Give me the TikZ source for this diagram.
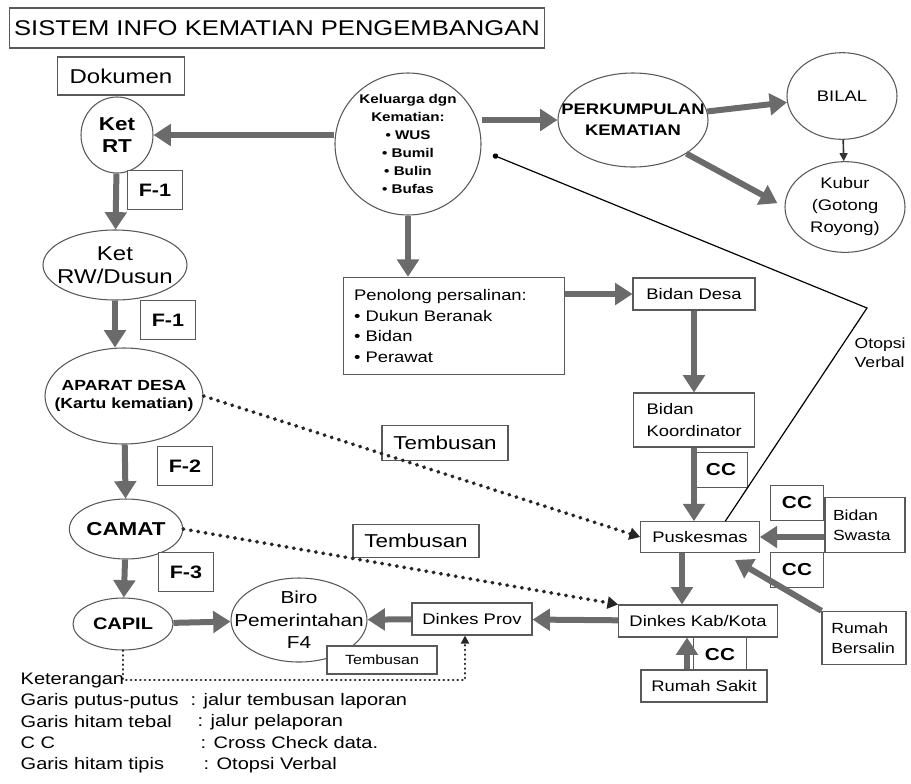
\documentclass[tikz,border=0pt]{standalone}
\usepackage{fontspec}
\setmainfont{Liberation Sans}[FakeStretch=1.2]
\usetikzlibrary{arrows.meta, shapes.geometric, calc}

\tikzset{
  box/.style={draw=black!65, line width=0.8pt, fill=white, align=center, inner sep=2pt,
    font=\fontsize{11.5}{13.5}\selectfont},
  oval/.style={ellipse, draw=black!65, line width=0.8pt, fill=white, inner sep=0pt},
  ovtxt/.style={align=center, inner sep=0pt},
  fbox/.style={box, minimum width=41pt, minimum height=29pt, font=\bfseries\fontsize{13.5}{15}\selectfont},
  ccbox/.style={box, minimum width=40pt, minimum height=26pt, font=\bfseries\fontsize{13}{15}\selectfont},
  legtext/.style={anchor=west, font=\fontsize{12.5}{14}\selectfont},
  lapor/.style={draw=black!58, line width=4.5pt, -{Triangle[length=13pt,width=16pt]}},
  tembus/.style={draw=black!85, line width=2.8pt, dash pattern=on 0.4pt off 5.2pt, line cap=round,
    -{Triangle[length=8pt,width=9pt]}},
  otopsi/.style={draw=black, line width=0.9pt, -{Circle[length=4pt]}},
}

\begin{document}
\begin{tikzpicture}[x=0.75pt, y=-0.75pt]
    \useasboundingbox (0,0) rectangle (911,783);

    % Judul
    \node[box, minimum width=401pt, minimum height=30pt, font=\fontsize{16}{18}\selectfont] (judul) at (277,28) {SISTEM INFO KEMATIAN PENGEMBANGAN};
    \node[box, minimum width=95pt, minimum height=28.5pt, font=\fontsize{15}{17}\selectfont] (dok) at (121,76) {Dokumen};

    % Jalur desa (kiri)
    \node[oval, minimum width=54pt, minimum height=57pt,
        label={[ovtxt, font=\bfseries\fontsize{14}{16}\selectfont]center:{Ket\\RT}}] (ketrt) at (117,135) {};
    \node[oval, minimum width=108pt, minimum height=52.5pt,
        label={[ovtxt, font=\fontsize{15}{17}\selectfont]center:{Ket\\RW/Dusun}}] (ketrw) at (115,265) {};
    \node[oval, minimum width=118.5pt, minimum height=72pt,
        label={[ovtxt, font=\bfseries\fontsize{11}{14}\selectfont]center:{APARAT DESA\\(Kartu kematian)}}] (aparat) at (124,396) {};
    \node[oval, minimum width=85pt, minimum height=45pt,
        label={[ovtxt, font=\bfseries\fontsize{14}{16}\selectfont]center:{CAMAT}}] (camat) at (126,529) {};
    \node[oval, minimum width=75pt, minimum height=39pt,
        label={[ovtxt, font=\bfseries\fontsize{12.5}{14}\selectfont]center:{CAPIL}}] (capil) at (123,624) {};
    \node[oval, minimum width=102pt, minimum height=63pt,
        label={[ovtxt, font=\fontsize{13}{17}\selectfont]center:{Biro\\Pemerintahan\\F4}}] (biro) at (299,620) {};

    % Formulir
    \foreach \nm/\x/\y/\lab in {f1a/155/190/F-1, f1b/168/320/F-1, f2/185/466/F-2, f3/186/572/F-3}
        \node[fbox] (\nm) at (\x,\y) {\lab};

    % Keluarga dan perkumpulan
    \node[oval, minimum width=109.5pt, minimum height=106.5pt,
        label={[ovtxt, font=\bfseries\fontsize{9.5}{13.5}\selectfont]center:{Keluarga dgn\\Kematian:\\• WUS\\• Bumil\\• Bulin\\• Bufas}}] (kel) at (408,144) {};
    \node[oval, minimum width=112.5pt, minimum height=70.5pt,
        label={[ovtxt, font=\bfseries\fontsize{11.5}{16}\selectfont]center:{PERKUMPULAN\\KEMATIAN}}] (perk) at (633,120) {};
    \node[oval, minimum width=82.5pt, minimum height=65pt,
        label={[ovtxt, font=\fontsize{11.5}{14}\selectfont]center:{BILAL}}] (bilal) at (842,96) {};
    \node[oval, minimum width=90pt, minimum height=68pt,
        label={[ovtxt, font=\fontsize{11.5}{16.5}\selectfont]center:{Kubur\\(Gotong\\Royong)}}] (kubur) at (845,207) {};

    % Jalur kesehatan
    \node[box, minimum height=73pt, text width=150pt, inner xsep=8pt, align=left,
        font=\fontsize{11.5}{15.5}\selectfont] (penolong) at (454,326)
        {Penolong persalinan:\\• Dukun Beranak\\• Bidan\\• Perawat};
    \node[box, minimum width=91.5pt, minimum height=24pt] (desa) at (694,294) {Bidan Desa};
    \node[box, minimum height=40.5pt, text width=71pt, inner xsep=10pt, align=left,
        font=\fontsize{11.5}{16.5}\selectfont] (koord) at (694,420) {Bidan\\Koordinator};

    \foreach \nm/\x/\y in {cc1/721/470, cc2/797/503, cc3/797/570, cc4/720/655}
        \node[ccbox] (\nm) at (\x,\y) {CC};

    \node[box, minimum width=89pt, minimum height=23pt] (pusk) at (700,537) {Puskesmas};
    \node[box, minimum height=41pt, text width=48pt, inner xsep=6pt, align=left,
        font=\fontsize{11}{15}\selectfont] (swasta) at (865,525) {Bidan\\Swasta};
    \node[box, minimum height=40pt, text width=49pt, inner xsep=7pt, align=left,
        font=\fontsize{11}{15}\selectfont] (bersalin) at (864,638) {Rumah\\Bersalin};
    \node[box, minimum width=119pt, minimum height=24pt] (kab) at (698,621) {Dinkes Kab/Kota};
    \node[box, minimum width=94.5pt, minimum height=24pt] (rs) at (704,686) {Rumah Sakit};
    \node[box, minimum width=90pt, minimum height=24pt] (prov) at (472,619) {Dinkes Prov};

    % Tembusan
    \node[box, minimum width=94.5pt, minimum height=26pt, font=\fontsize{14}{16}\selectfont] (temb1) at (445,443) {Tembusan};
    \node[box, minimum width=94.5pt, minimum height=25pt, font=\fontsize{14}{16}\selectfont] (temb2) at (416,541) {Tembusan};
    \node[box, minimum width=82.5pt, minimum height=21pt, font=\fontsize{10}{12}\selectfont] (temb3) at (382,660) {Tembusan};
    \node[anchor=west, align=left, font=\fontsize{11}{14}\selectfont] (otplab) at (850,353) {Otopsi\\Verbal};

    % Jalur pelaporan (garis tebal)
    \draw[lapor] (kel.west |- ketrt.east) -- (ketrt.east);
    \draw[lapor] (ketrt) -- (ketrw);
    \draw[lapor] (ketrw.south) -- (ketrw.south |- aparat.north);
    \draw[lapor] (aparat) -- (camat);
    \draw[lapor] (camat) -- (capil);
    \draw[lapor] (capil) -- (biro);
    \draw[lapor] (prov) -- (biro);
    \draw[lapor] (kab) -- (prov);
    \draw[lapor] (perk.west -| kel.east) -- (perk.west);
    \draw[lapor] (perk) -- (bilal);
    \draw[lapor, shorten >=6pt] (perk.south east) -- (kubur.west);
    \draw[draw=black!80, line width=1.2pt, -{Triangle[length=6pt,width=6pt]}] (bilal) -- (kubur);
    \draw[lapor] (kel.south) -- (kel.south |- penolong.north);
    \draw[lapor] (penolong.east |- desa.west) -- (desa.west);
    \draw[lapor] (desa) -- (koord);
    \draw[lapor] (koord.south) -- (koord.south |- pusk.north);
    \draw[lapor] ([xshift=-13.5pt]pusk.south) -- ([xshift=-13.5pt]pusk.south |- kab.north);
    \draw[lapor] (swasta.west |- pusk.east) -- (pusk.east);
    \coordinate (pskin) at (735,560);
    \draw[lapor] (bersalin.north west) -- (pskin);
    \draw[lapor] ([xshift=-12.75pt]rs.north) -- ([xshift=-12.75pt]rs.north |- kab.south);

    % Otopsi verbal (garis tipis)
    \coordinate (otp) at (867,308);
    \coordinate (kelend) at (493,155);
    \draw[otopsi] ([xshift=19pt]pusk.north) -- (otp) -- (kelend);

    % Tembusan laporan (garis putus-putus)
    \draw[tembus] (aparat.east) -- (pusk.west);
    \draw[tembus] (camat.east) -- (kab.north west);
    \coordinate (kbend) at (465,680);
    \draw[draw=black!85, line width=1.8pt, dash pattern=on 0.3pt off 3.2pt, line cap=round,
        -{Triangle[length=6pt,width=6pt]}]
        (capil.south) |- (kbend) -- (kbend |- prov.south);

    % Keterangan
    \node[legtext] (ket) at (16,680) {Keterangan};
    \foreach \y/\xc/\a/\b in {701/186/Garis putus-putus/jalur tembusan laporan,
                               722/193/Garis hitam tebal/jalur pelaporan,
                               743/196/C C/Cross Check data.,
                               765/199/Garis hitam tipis/Otopsi Verbal} {
        \node[legtext] (ka\y) at (16,\y) {\a};
        \node[legtext] (kb\y) at (\xc,\y) {: \b};
    }
\end{tikzpicture}
\end{document}
